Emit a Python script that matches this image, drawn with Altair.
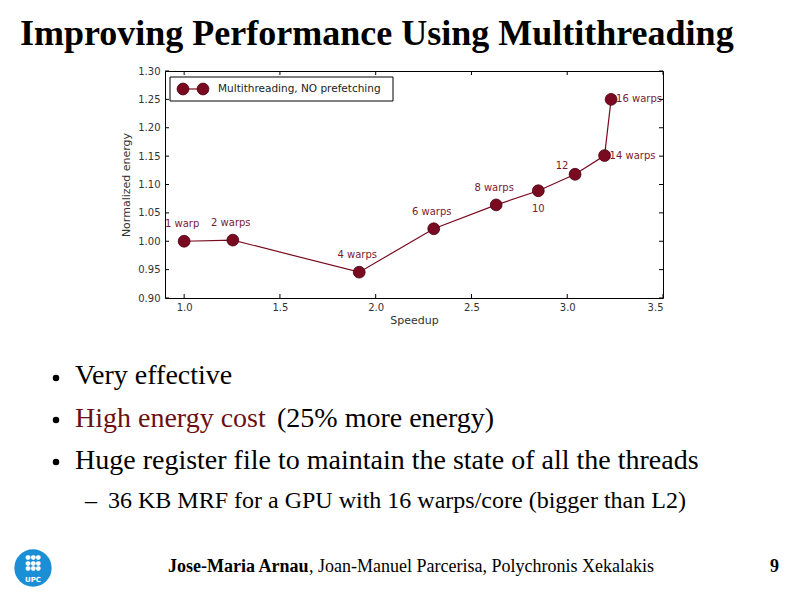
import altair as alt
import pandas as pd

# ---- data ----
warps = [1, 2, 4, 6, 8, 10, 12, 14, 16]
speedup = [1.0, 1.254, 1.914, 2.303, 2.629, 2.849, 3.041, 3.195, 3.229]
energy = [1.000, 1.002, 0.9455, 1.022, 1.064, 1.089, 1.118, 1.151, 1.250]
labels = ["1 warp", "2 warps", "4 warps", "6 warps", "8 warps", "10", "12", "14 warps", "16 warps"]
x_ticks = [1.0, 1.5, 2.0, 2.5, 3.0, 3.5]
y_ticks = [0.90, 0.95, 1.00, 1.05, 1.10, 1.15, 1.20, 1.25, 1.30]
series_name = "Multithreading, NO prefetching"

slide_title = "Improving Performance Using Multithreading"
bullets = ["Very effective", "High energy cost", "(25% more energy)",
           "Huge register file to maintain the state of all the threads"]
sub_bullet = "36 KB MRF for a GPU with 16 warps/core (bigger than L2)"
footer_bold = "Jose-Maria Arnau"
footer_rest = ", Joan-Manuel Parcerisa, Polychronis Xekalakis"
page_no = "9"

df = pd.DataFrame({"warps": warps, "speedup": speedup, "energy": energy, "label": labels})

W, H = 498, 227
MAROON = "#7a0a20"
LABEL_C = "#7a1a30"
SANS = "DejaVu Sans"
SERIF = "Liberation Serif"

xs = alt.Scale(domain=[0.9, 3.5], nice=False, zero=False)
ys = alt.Scale(domain=[0.90, 1.30], nice=False, zero=False)

x_axis = alt.Axis(values=x_ticks, format=".1f", tickSize=0, domain=False, grid=False,
                  labelOverlap=False, labelFont=SANS, labelFontSize=10, labelColor="#333",
                  labelPadding=4, title="Speedup", titleFont=SANS, titleFontSize=11,
                  titleFontWeight="normal", titleColor="#333", titlePadding=2)
y_axis = alt.Axis(values=y_ticks, format=".2f", tickSize=0, domain=False, grid=False,
                  labelOverlap=False, labelFont=SANS, labelFontSize=10, labelColor="#333",
                  labelPadding=5, title="Normalized energy", titleFont=SANS, titleFontSize=11,
                  titleFontWeight="normal", titleColor="#333", titlePadding=6)

def X(f):
    return alt.X(f, scale=xs, axis=x_axis)

def Y(f):
    return alt.Y(f, scale=ys, axis=y_axis)

base = alt.Chart(df)

line = base.mark_line(color=MAROON, strokeWidth=1.2).encode(x=X("speedup:Q"), y=Y("energy:Q"))
pts = base.mark_circle(color=MAROON, opacity=1, size=140, stroke="#4a0010", strokeWidth=0.8).encode(
    x=X("speedup:Q"), y=Y("energy:Q"))

def lbl(filt, **kw):
    return base.transform_filter(filt).mark_text(color=LABEL_C, font=SANS, fontSize=10, **kw).encode(
        x=X("speedup:Q"), y=Y("energy:Q"), text="label:N")

lab_above = lbl("datum.warps <= 8", dy=-17, dx=-2)
lab_below = lbl("datum.warps == 10", dy=18)
lab_al = lbl("datum.warps == 12", dy=-8, dx=-13)
lab_right = lbl("datum.warps >= 14", align="left", dx=5)

# inward ticks (matplotlib classic style)
xt = pd.DataFrame({"speedup": x_ticks})
yt = pd.DataFrame({"energy": y_ticks})
tk_b = alt.Chart(xt).mark_rule(color="black").encode(
    x=X("speedup:Q"), y=alt.value(H), y2=alt.value(H - 4))
tk_t = alt.Chart(xt).mark_rule(color="black").encode(
    x=X("speedup:Q"), y=alt.value(0), y2=alt.value(4))
tk_l = alt.Chart(yt).mark_rule(color="black").encode(
    y=Y("energy:Q"), x=alt.value(0), x2=alt.value(4))
tk_r = alt.Chart(yt).mark_rule(color="black").encode(
    y=Y("energy:Q"), x=alt.value(W), x2=alt.value(W - 4))

# legend box
one = pd.DataFrame({"t": [series_name]})
leg_box = alt.Chart(one).mark_rect(fill="white", stroke="black", strokeWidth=1).encode(
    x=alt.value(5), x2=alt.value(228), y=alt.value(6), y2=alt.value(30))
leg_line = alt.Chart(one).mark_rule(color=MAROON, strokeWidth=1.2).encode(
    x=alt.value(18), x2=alt.value(38), y=alt.value(18))
leg_p1 = alt.Chart(one).mark_circle(color=MAROON, opacity=1, size=140, stroke="#4a0010", strokeWidth=0.8).encode(
    x=alt.value(18), y=alt.value(18))
leg_p2 = alt.Chart(one).mark_circle(color=MAROON, opacity=1, size=140, stroke="#4a0010", strokeWidth=0.8).encode(
    x=alt.value(38), y=alt.value(18))
leg_txt = alt.Chart(one).mark_text(align="left", baseline="middle", font=SANS, fontSize=10.5, color="#222").encode(
    x=alt.value(53), y=alt.value(18), text="t:N")

# slide text (positions relative to plot origin at page (165, 71))
def txt(s, x, y, size, weight="normal", color="black", font=SERIF, align="left"):
    return alt.Chart(pd.DataFrame({"t": [s]})).mark_text(
        align=align, baseline="middle", font=font, fontSize=size, fontWeight=weight, color=color
    ).encode(x=alt.value(x), y=alt.value(y), text="t:N")

def dot(x, y, size, color="black"):
    return alt.Chart(one).mark_circle(color=color, opacity=1, size=size).encode(
        x=alt.value(x), y=alt.value(y))

title_t = txt(slide_title, -145, -37, 36, weight="bold")
b_dots = [dot(-109, yy, 42) for yy in (307, 349, 391)]
b1 = txt(bullets[0], -90, 305, 28)
b2a = txt(bullets[1], -90, 348, 28, color="#6b0f14")
b2b = txt(bullets[2], 112, 348, 28)
b3 = txt(bullets[3], -90, 390, 28)
sub_dash = txt("–", -80, 430, 24)
sub_t = txt(sub_bullet, -57, 430, 24)
foot_b = txt(footer_bold, 3, 496, 18, weight="bold")
foot_r = txt(footer_rest, 144, 496, 18)
page_t = txt(page_no, 605, 496, 18, weight="bold")

logo_c = dot(-132, 497, 1390, color="#1a8fd6")
logo_dots = alt.Chart(pd.DataFrame({"t": [["●●●", "●●●", "●●●"]]})).mark_text(
    font=SANS, fontSize=6, color="white", lineHeight=5.5, baseline="middle").encode(
    x=alt.value(-132), y=alt.value(486), text="t")
logo_t = txt("UPC", -132, 509, 7, weight="bold", color="white", font=SANS, align="center")

chart = alt.layer(
    line, pts, lab_above, lab_below, lab_al, lab_right,
    tk_b, tk_t, tk_l, tk_r,
    leg_box, leg_line, leg_p1, leg_p2, leg_txt,
    title_t, *b_dots, b1, b2a, b2b, b3, sub_dash, sub_t, foot_b, foot_r, page_t,
    logo_c, logo_dots, logo_t,
).properties(
    width=W, height=H,
    autosize=alt.AutoSizeParams(type="none"),
    padding={"left": 157, "top": 63, "right": 122, "bottom": 290},
    background="white",
).configure_view(stroke="black", strokeWidth=1)

chart.save("out.html", embed_options={"renderer": "svg", "actions": False})
